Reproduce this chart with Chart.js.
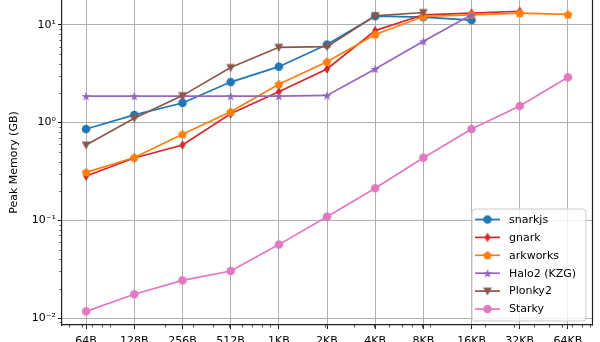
<!DOCTYPE html>
<html>
<head>
<meta charset="utf-8">
<script src="https://cdn.jsdelivr.net/npm/chart.js@4.4.0/dist/chart.umd.min.js"></script>
<style>
  html, body { margin: 0; padding: 0; background: #ffffff; overflow: hidden; }
  canvas { display: block; }
</style>
</head>
<body>
<canvas id="chart" width="600" height="342"></canvas>
<script>
// Input sizes (x axis, log2 spaced)
const sizeLabels = ['64B', '128B', '256B', '512B', '1KB', '2KB', '4KB', '8KB', '16KB', '32KB', '64KB'];
const sizeBytes  = [64, 128, 256, 512, 1024, 2048, 4096, 8192, 16384, 32768, 65536];

// Peak memory in GB per prover (null = not measured)
const snarkjs  = [0.86, 1.20, 1.59, 2.60, 3.74, 6.3, 12.3, 12.0, 11.2, null, null];
const gnark    = [0.284, 0.434, 0.59, 1.23, 2.07, 3.54, 8.75, 12.7, 13.2, 13.8, null];
const arkworks = [0.31, 0.44, 0.76, 1.29, 2.47, 4.2, 8.0, 12.2, 12.7, 13.2, 12.8];
const halo2    = [1.87, 1.87, 1.87, 1.87, 1.87, 1.9, 3.54, 6.8, 12.7, null, null];
const plonky2  = [0.59, 1.11, 1.89, 3.66, 5.9, 6.0, 12.4, 13.4, null, null, null];
const starky   = [0.0117, 0.0175, 0.0243, 0.0303, 0.0564, 0.109, 0.213, 0.437, 0.86, 1.48, 2.91];

// Y axis decade ticks
const yTickValues = [0.01, 0.1, 1, 10];
const yTickLabels = ['10\u207B\u00B2', '10\u207B\u00B9', '10\u2070', '10\u00B9'];

const FONT = "'DejaVu Sans', sans-serif";
Chart.defaults.font.family = FONT;
Chart.defaults.font.size = 11;
Chart.defaults.color = '#000000';

// Marker glyphs rendered once to small canvases
function makeMarker(shape, color) {
  const s = 14, c = s / 2;
  const cv = document.createElement('canvas');
  cv.width = s; cv.height = s;
  const g = cv.getContext('2d');
  g.fillStyle = color;
  g.beginPath();
  if (shape === 'circle') {
    g.arc(c, c, 4.3, 0, Math.PI * 2);
  } else if (shape === 'thin_diamond') {
    g.moveTo(c, c - 4.8); g.lineTo(c + 3.0, c); g.lineTo(c, c + 4.8); g.lineTo(c - 3.0, c);
  } else if (shape === 'pentagon') {
    for (let k = 0; k < 5; k++) {
      const a = -Math.PI / 2 + k * 2 * Math.PI / 5;
      const x = c + 4.6 * Math.cos(a), y = c + 4.6 * Math.sin(a) + 0.4;
      k === 0 ? g.moveTo(x, y) : g.lineTo(x, y);
    }
  } else if (shape === 'star') {
    for (let k = 0; k < 10; k++) {
      const r = (k % 2 === 0) ? 4.8 : 1.95;
      const a = -Math.PI / 2 + k * Math.PI / 5;
      const x = c + r * Math.cos(a), y = c + r * Math.sin(a) + 0.5;
      k === 0 ? g.moveTo(x, y) : g.lineTo(x, y);
    }
  } else if (shape === 'triangle_down') {
    g.moveTo(c - 4.4, c - 3.6); g.lineTo(c + 4.4, c - 3.6); g.lineTo(c, c + 4.6);
  }
  g.closePath();
  g.fill();
  return cv;
}

const series = [
  { label: 'snarkjs',     values: snarkjs,  color: '#1f77b4', shape: 'circle' },
  { label: 'gnark',       values: gnark,    color: '#d62728', shape: 'thin_diamond' },
  { label: 'arkworks',    values: arkworks, color: '#ff7f0e', shape: 'pentagon' },
  { label: 'Halo2 (KZG)', values: halo2,    color: '#9467bd', shape: 'star' },
  { label: 'Plonky2',     values: plonky2,  color: '#8c564b', shape: 'triangle_down' },
  { label: 'Starky',      values: starky,   color: '#e377c2', shape: 'circle' }
];
series.forEach(s => { s.marker = makeMarker(s.shape, s.color); });

const datasets = series.map((s, idx) => ({
  label: s.label,
  data: s.values.map((v, i) => ({ x: i, y: v })),
  borderColor: s.color,
  backgroundColor: s.color,
  borderWidth: 1.7,
  pointStyle: s.marker,
  pointRadius: 4,
  pointHoverRadius: 4,
  tension: 0,
  spanGaps: false,
  order: series.length - idx
}));

// Minor ticks, right spine and the in-axes legend
const decorations = {
  id: 'decorations',
  afterDraw(chart) {
    const { ctx, chartArea: a } = chart;
    const xs = chart.scales.x, ys = chart.scales.y;
    ctx.save();
    ctx.strokeStyle = '#222222';
    ctx.lineWidth = 0.8;
    // y minor ticks at n * 10^k
    for (let k = -3; k <= 1; k++) {
      for (let n = 2; n <= 9; n++) {
        const v = n * Math.pow(10, k);
        if (v < ys.min || v > ys.max) continue;
        const py = Math.round(ys.getPixelForValue(v)) + 0.5;
        ctx.beginPath(); ctx.moveTo(a.left - 2.5, py); ctx.lineTo(a.left, py); ctx.stroke();
      }
    }
    // x minor ticks at n * 10^k bytes
    const lo = 64 * Math.pow(2, xs.min), hi = 64 * Math.pow(2, xs.max);
    for (let k = 1; k <= 5; k++) {
      for (let n = 2; n <= 9; n++) {
        const b = n * Math.pow(10, k);
        if (b < lo || b > hi) continue;
        const px = Math.round(xs.getPixelForValue(Math.log2(b / 64))) + 0.5;
        ctx.beginPath(); ctx.moveTo(px, a.bottom); ctx.lineTo(px, a.bottom + 2.5); ctx.stroke();
      }
    }
    // right spine
    ctx.lineWidth = 1.2;
    ctx.beginPath(); ctx.moveTo(a.right + 0.5, a.top); ctx.lineTo(a.right + 0.5, a.bottom + 0.6); ctx.stroke();

    // legend box
    const bx = 472, by = 209, bw = 114, bh = 112, r = 3;
    ctx.beginPath();
    ctx.moveTo(bx + r, by);
    ctx.lineTo(bx + bw - r, by); ctx.quadraticCurveTo(bx + bw, by, bx + bw, by + r);
    ctx.lineTo(bx + bw, by + bh - r); ctx.quadraticCurveTo(bx + bw, by + bh, bx + bw - r, by + bh);
    ctx.lineTo(bx + r, by + bh); ctx.quadraticCurveTo(bx, by + bh, bx, by + bh - r);
    ctx.lineTo(bx, by + r); ctx.quadraticCurveTo(bx, by, bx + r, by);
    ctx.closePath();
    ctx.fillStyle = 'rgba(255,255,255,0.8)';
    ctx.fill();
    ctx.strokeStyle = '#cccccc';
    ctx.lineWidth = 1;
    ctx.stroke();

    ctx.font = '11px ' + FONT;
    ctx.textBaseline = 'middle';
    ctx.textAlign = 'left';
    series.forEach((s, i) => {
      const cy = 219.5 + i * 17.9;
      ctx.strokeStyle = s.color;
      ctx.lineWidth = 1.7;
      ctx.beginPath(); ctx.moveTo(475, cy); ctx.lineTo(500, cy); ctx.stroke();
      ctx.drawImage(s.marker, 487.5 - s.marker.width / 2, cy - s.marker.height / 2);
      ctx.fillStyle = '#000000';
      ctx.fillText(s.label, 509, cy + 0.5);
    });
    ctx.restore();
  }
};

new Chart(document.getElementById('chart'), {
  type: 'line',
  data: { datasets },
  options: {
    responsive: false,
    animation: false,
    events: [],
    layout: { autoPadding: false, padding: { left: 0, right: 8, top: 0, bottom: 0 } },
    plugins: { legend: { display: false }, tooltip: { enabled: false } },
    scales: {
      x: {
        type: 'linear',
        min: -0.5,
        max: 10.5,
        afterBuildTicks: (scale) => { scale.ticks = sizeLabels.map((_, i) => ({ value: i })); },
        afterFit: (scale) => { scale.height = 17; scale.paddingLeft = 0; scale.paddingRight = 0; },
        ticks: {
          callback: (v) => sizeLabels[v],
          autoSkip: false,
          maxRotation: 0,
          padding: 6,
          color: '#000000',
          font: { size: 11 }
        },
        grid: { color: '#b0b0b0', lineWidth: 1, tickColor: '#222222', tickLength: 4, tickWidth: 1 },
        border: { color: '#222222', width: 1.2 }
      },
      y: {
        type: 'logarithmic',
        min: 0.00848,
        max: 18,
        afterBuildTicks: (scale) => { scale.ticks = yTickValues.map(v => ({ value: v })); },
        afterFit: (scale) => { scale.width = 62; scale.paddingTop = 0; scale.paddingBottom = 0; },
        ticks: {
          callback: (v) => { const i = yTickValues.indexOf(v); return i >= 0 ? yTickLabels[i] : ''; },
          padding: 2,
          color: '#000000',
          font: { size: 11 }
        },
        grid: { color: '#b0b0b0', lineWidth: 1, tickColor: '#222222', tickLength: 4, tickWidth: 1 },
        border: { color: '#222222', width: 1.2 },
        title: {
          display: true,
          text: 'Peak Memory (GB)',
          color: '#000000',
          font: { size: 11 },
          padding: { top: 8, bottom: 4 }
        }
      }
    }
  },
  plugins: [decorations]
});
</script>
</body>
</html>
